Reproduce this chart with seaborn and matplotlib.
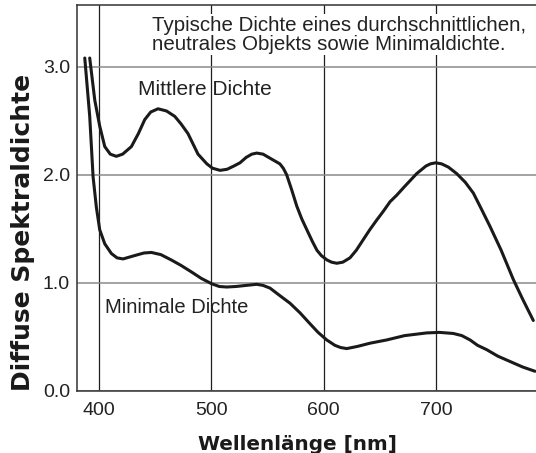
import matplotlib
matplotlib.use("Agg")
import matplotlib.pyplot as plt
import pandas as pd
import seaborn as sns

# Diffuse spectral density curves
mid_nm = [391.7, 396.2, 400.6, 405.1, 410, 415.4, 421, 428.8, 435, 440.7,
          446, 452.5, 460, 467.4, 473, 479.2, 488.1, 496, 501, 507.7,
          514, 520, 525.5, 531, 536, 540.4, 546, 551, 556, 561,
          564, 567, 571.5, 576, 580.5, 585, 590, 594, 598, 603,
          607, 611.6, 617, 623.4, 629, 635.3, 641, 647.2, 653, 659.1,
          665, 672, 682.8, 691, 695, 699.7, 705, 711, 718.4, 726,
          733.2, 740, 748.1, 758, 768.8, 777, 786.6]
mid_density = [3.08, 2.69, 2.45, 2.26, 2.19, 2.17, 2.19, 2.26, 2.38, 2.51,
               2.58, 2.61, 2.59, 2.54, 2.47, 2.38, 2.19, 2.10, 2.06, 2.04,
               2.05, 2.08, 2.11, 2.16, 2.19, 2.20, 2.19, 2.16, 2.13, 2.10,
               2.06, 2.00, 1.86, 1.71, 1.59, 1.49, 1.38, 1.30, 1.25, 1.21,
               1.19, 1.18, 1.19, 1.23, 1.30, 1.40, 1.49, 1.58, 1.66, 1.75,
               1.81, 1.89, 2.01, 2.08, 2.10, 2.11, 2.10, 2.07, 2.01, 1.93,
               1.83, 1.69, 1.52, 1.30, 1.03, 0.85, 0.65]

min_nm = [387.3, 391.7, 394.7, 397.6, 400.6, 405.1, 411, 416, 421.4, 428,
          434.7, 440, 446.6, 455, 464.4, 473, 482.2, 491, 500.3, 507,
          513.7, 522, 531, 540.4, 546, 552.2, 561, 570, 579, 587.8,
          595, 602.7, 610, 615, 620.5, 630, 641.3, 656.1, 672, 691.7,
          703, 715.4, 723, 730.3, 737, 745.1, 755, 766, 777, 788.1]
min_density = [3.08, 2.54, 1.98, 1.70, 1.49, 1.36, 1.27, 1.23, 1.22, 1.24,
               1.26, 1.275, 1.28, 1.26, 1.21, 1.16, 1.10, 1.04, 0.99, 0.965,
               0.96, 0.965, 0.975, 0.985, 0.975, 0.95, 0.88, 0.81, 0.72, 0.62,
               0.54, 0.47, 0.42, 0.40, 0.39, 0.41, 0.44, 0.47, 0.51, 0.535,
               0.54, 0.53, 0.51, 0.47, 0.42, 0.38, 0.32, 0.27, 0.22, 0.18]

x_ticks = [400, 500, 600, 700]
y_ticks = [0.0, 1.0, 2.0, 3.0]

title_text = "Typische Dichte eines durchschnittlichen,\nneutrales Objekts sowie Minimaldichte."
label_mid = "Mittlere Dichte"
label_min = "Minimale Dichte"

df_mid = pd.DataFrame({"nm": mid_nm, "density": mid_density})
df_min = pd.DataFrame({"nm": min_nm, "density": min_density})

sns.set_style("white")
plt.rcParams["font.family"] = ["Liberation Sans", "DejaVu Sans"]

fig = plt.figure(figsize=(5.36, 4.53), dpi=100)
ax = fig.add_axes([0.1437, 0.1375, 0.8563, 0.8515])

ax.xaxis.grid(True, color="#1e1e1e", lw=0.9)
ax.yaxis.grid(True, color="#8a8a8a", lw=1.1)
ax.set_axisbelow(True)

line_color = "#1a1a1a"
sns.lineplot(data=df_mid, x="nm", y="density", sort=False, estimator=None,
             color=line_color, lw=2.2, ax=ax)
sns.lineplot(data=df_min, x="nm", y="density", sort=False, estimator=None,
             color=line_color, lw=2.2, ax=ax)

ax.set_xlim(380.4, 789.0)
ax.set_ylim(0, 3.571)
ax.set_xticks(x_ticks)
ax.set_yticks(y_ticks)
ax.set_yticklabels([f"{v:.1f}" for v in y_ticks])
ax.tick_params(length=0, labelsize=14, colors="#222222")
ax.tick_params(axis="x", pad=8)
ax.tick_params(axis="y", pad=5)

for side in ["left", "bottom", "top"]:
    ax.spines[side].set_visible(True)
    ax.spines[side].set_color("#333333")
    ax.spines[side].set_linewidth(1.1)
ax.spines["right"].set_visible(False)

ax.set_xlabel("Wellenlänge [nm]", family="DejaVu Sans", fontweight="bold",
              fontsize=14.4, color="#1a1a1a")
ax.set_ylabel("Diffuse Spektraldichte", family="DejaVu Sans", fontweight="bold",
              fontsize=18, color="#1a1a1a")
ax.xaxis.set_label_coords(0.480, -0.115)
ax.yaxis.set_label_coords(-0.092, 0.411)

ax.text(447.2, 3.47, title_text, fontsize=14.8, color="#222222", va="top",
        ha="left", linespacing=1.0,
        bbox=dict(facecolor="white", edgecolor="none", pad=1))
ax.text(434.7, 2.784, label_mid, fontsize=15, color="#222222", va="center", ha="left")
ax.text(405.3, 0.766, label_min, fontsize=14.5, color="#222222", va="center", ha="left")

fig.savefig("out.png", dpi=100)
